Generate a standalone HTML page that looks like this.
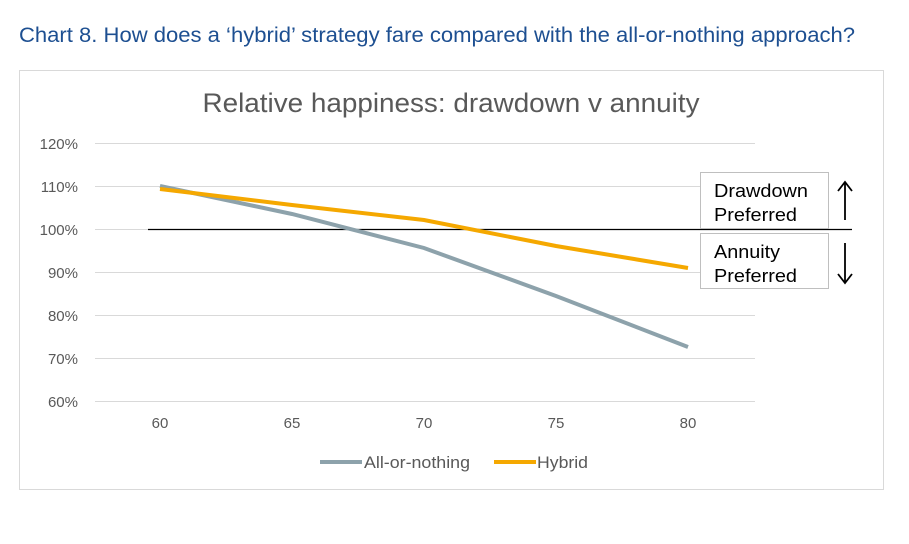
<!DOCTYPE html>
<html><head><meta charset="utf-8"><style>
body{margin:0;background:#fff;width:909px;height:539px;overflow:hidden;font-family:"Liberation Sans",sans-serif}
</style></head><body>
<svg width="909" height="539" xmlns="http://www.w3.org/2000/svg" font-family="Liberation Sans, sans-serif">
<text x="19" y="42" font-size="21" fill="#1d4f91" textLength="836" lengthAdjust="spacingAndGlyphs">Chart 8. How does a ‘hybrid’ strategy fare compared with the all-or-nothing approach?</text>
<rect x="19.5" y="70.5" width="864" height="419" fill="#fff" stroke="#d9d9d9"/>
<text x="451" y="112" font-size="27" fill="#595959" text-anchor="middle" textLength="497" lengthAdjust="spacingAndGlyphs">Relative happiness: drawdown v annuity</text>
<g stroke="#d9d9d9" stroke-width="1">
<line x1="95" y1="143.5" x2="755" y2="143.5"/><line x1="95" y1="186.5" x2="755" y2="186.5"/>
<line x1="95" y1="229.5" x2="755" y2="229.5"/><line x1="95" y1="272.5" x2="755" y2="272.5"/>
<line x1="95" y1="315.5" x2="755" y2="315.5"/><line x1="95" y1="358.5" x2="755" y2="358.5"/>
<line x1="95" y1="401.5" x2="755" y2="401.5"/></g>
<g font-size="15" fill="#595959" text-anchor="end">
<text x="78" y="149">120%</text><text x="78" y="192">110%</text><text x="78" y="235">100%</text>
<text x="78" y="278">90%</text><text x="78" y="321">80%</text><text x="78" y="364">70%</text><text x="78" y="407">60%</text></g>
<g font-size="15" fill="#595959" text-anchor="middle">
<text x="160" y="428">60</text><text x="292" y="428">65</text><text x="424" y="428">70</text><text x="556" y="428">75</text><text x="688" y="428">80</text></g>
<line x1="148" y1="229.5" x2="852" y2="229.5" stroke="#000" stroke-width="1.2"/>
<polyline points="160,186 292,214 424,248 556,296 688,347" fill="none" stroke="#8da2ab" stroke-width="4"/>
<polyline points="160,189 292,205 424,220 556,246 688,268" fill="none" stroke="#f5a800" stroke-width="4"/>
<rect x="700.5" y="172.5" width="128" height="56" fill="#fff" stroke="#bfbfbf"/>
<rect x="700.5" y="233.5" width="128" height="55" fill="#fff" stroke="#bfbfbf"/>
<g font-size="18.5" fill="#000">
<text x="714" y="197" textLength="94" lengthAdjust="spacingAndGlyphs">Drawdown</text>
<text x="714" y="221" textLength="83" lengthAdjust="spacingAndGlyphs">Preferred</text>
<text x="714" y="258" textLength="66" lengthAdjust="spacingAndGlyphs">Annuity</text>
<text x="714" y="282" textLength="83" lengthAdjust="spacingAndGlyphs">Preferred</text></g>
<g stroke="#000" stroke-width="1.8" fill="none">
<line x1="845" y1="183" x2="845" y2="220"/><polyline points="838,191 845,182 852,191"/>
<line x1="845" y1="243" x2="845" y2="282"/><polyline points="838,274 845,283 852,274"/></g>
<line x1="320" y1="462" x2="362" y2="462" stroke="#8da2ab" stroke-width="4"/>
<text x="364" y="468" font-size="17" fill="#595959" textLength="106" lengthAdjust="spacingAndGlyphs">All-or-nothing</text>
<line x1="494" y1="462" x2="536" y2="462" stroke="#f5a800" stroke-width="4"/>
<text x="537" y="468" font-size="17" fill="#595959" textLength="51" lengthAdjust="spacingAndGlyphs">Hybrid</text>
</svg>
</body></html>
